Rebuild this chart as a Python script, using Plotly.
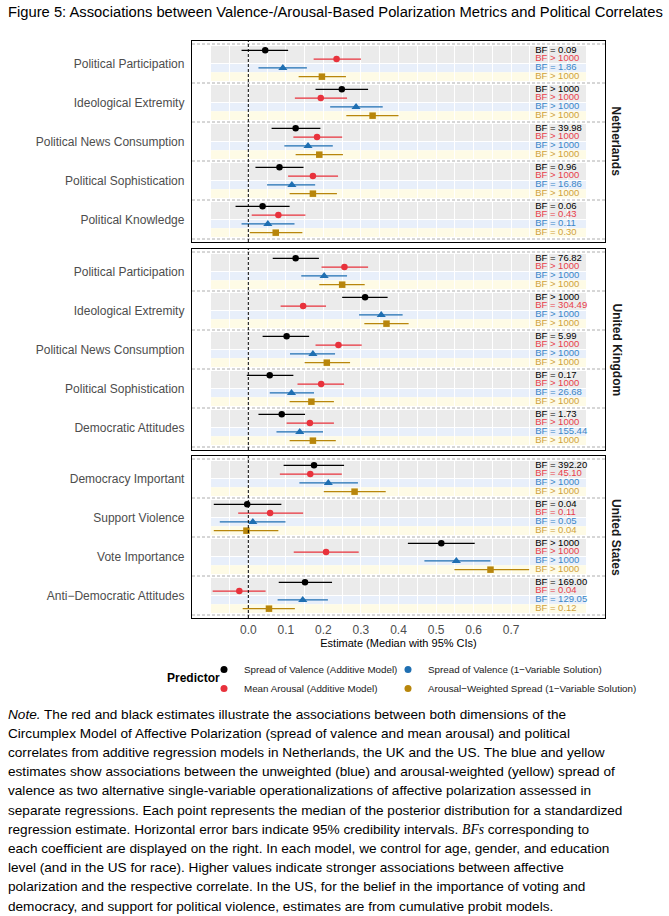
import plotly.graph_objects as go

# ---------------- data ----------------
series_names = [
    "Spread of Valence (Additive Model)",
    "Mean Arousal (Additive Model)",
    "Spread of Valence (1\u2212Variable Solution)",
    "Arousal\u2212Weighted Spread (1\u2212Variable Solution)",
]
countries = ["Netherlands", "United Kingdom", "United States"]

nl_categories = ["Political Participation", "Ideological Extremity", "Political News Consumption",
                 "Political Sophistication", "Political Knowledge"]
nl_est = [[0.045, 0.249, 0.126, 0.083, 0.038],
          [0.235, 0.193, 0.183, 0.172, 0.080],
          [0.092, 0.287, 0.159, 0.116, 0.052],
          [0.196, 0.331, 0.189, 0.172, 0.073]]
nl_lo = [[-0.018, 0.179, 0.062, 0.019, -0.034],
         [0.174, 0.124, 0.120, 0.106, 0.009],
         [0.027, 0.218, 0.096, 0.050, -0.018],
         [0.134, 0.261, 0.126, 0.110, 0.004]]
nl_hi = [[0.106, 0.319, 0.192, 0.147, 0.110],
         [0.300, 0.263, 0.250, 0.239, 0.152],
         [0.156, 0.358, 0.225, 0.178, 0.123],
         [0.260, 0.400, 0.252, 0.236, 0.144]]
nl_bf = [["= 0.09", "> 1000", "= 39.98", "= 0.96", "= 0.06"],
         ["> 1000", "> 1000", "> 1000", "> 1000", "= 0.43"],
         ["= 1.86", "> 1000", "> 1000", "= 16.86", "= 0.11"],
         ["> 1000", "> 1000", "> 1000", "> 1000", "= 0.30"]]

uk_categories = ["Political Participation", "Ideological Extremity", "Political News Consumption",
                 "Political Sophistication", "Democratic Attitudes"]
uk_est = [[0.126, 0.311, 0.102, 0.057, 0.089],
          [0.256, 0.146, 0.240, 0.194, 0.164],
          [0.202, 0.354, 0.172, 0.115, 0.137],
          [0.250, 0.368, 0.209, 0.168, 0.172]]
uk_lo = [[0.065, 0.250, 0.038, -0.004, 0.027],
         [0.195, 0.086, 0.179, 0.131, 0.102],
         [0.141, 0.295, 0.111, 0.057, 0.075],
         [0.189, 0.309, 0.150, 0.110, 0.110]]
uk_hi = [[0.188, 0.371, 0.162, 0.120, 0.151],
         [0.319, 0.207, 0.302, 0.255, 0.228],
         [0.263, 0.411, 0.231, 0.175, 0.199],
         [0.310, 0.427, 0.271, 0.228, 0.233]]
uk_bf = [["= 76.82", "> 1000", "= 5.99", "= 0.17", "= 1.73"],
         ["> 1000", "= 304.49", "> 1000", "> 1000", "> 1000"],
         ["> 1000", "> 1000", "> 1000", "= 26.68", "= 155.44"],
         ["> 1000", "> 1000", "> 1000", "> 1000", "> 1000"]]

us_categories = ["Democracy Important", "Support Violence", "Vote Importance",
                 "Anti\u2212Democratic Attitudes"]
us_est = [[0.175, -0.003, 0.514, 0.151],
          [0.165, 0.058, 0.207, -0.024],
          [0.213, 0.012, 0.554, 0.145],
          [0.283, -0.005, 0.645, 0.055]]
us_lo = [[0.094, -0.092, 0.425, 0.081],
         [0.084, -0.027, 0.121, -0.095],
         [0.136, -0.076, 0.469, 0.078],
         [0.201, -0.092, 0.549, -0.015]]
us_hi = [[0.255, 0.088, 0.603, 0.223],
         [0.249, 0.146, 0.294, 0.046],
         [0.292, 0.099, 0.645, 0.212],
         [0.366, 0.080, 0.748, 0.124]]
us_bf = [["= 392.20", "= 0.04", "> 1000", "= 169.00"],
         ["= 45.10", "= 0.11", "> 1000", "= 0.04"],
         ["> 1000", "= 0.05", "> 1000", "= 129.05"],
         ["> 1000", "= 0.04", "> 1000", "= 0.12"]]

x_ticks = [0.0, 0.1, 0.2, 0.3, 0.4, 0.5, 0.6, 0.7]

note_lines = [
    "<i>Note.</i> The red and black estimates illustrate the associations between both dimensions of the",
    "Circumplex Model of Affective Polarization (spread of valence and mean arousal) and political",
    "correlates from additive regression models in Netherlands, the UK and the US. The blue and yellow",
    "estimates show associations between the unweighted (blue) and arousal-weighted (yellow) spread of",
    "valence as two alternative single-variable operationalizations of affective polarization assessed in",
    "separate regressions. Each point represents the median of the posterior distribution for a standardized",
    "regression estimate. Horizontal error bars indicate 95% credibility intervals. "
    "<i><span style=\"font-family:'Liberation Serif'\">BFs</span></i> corresponding to",
    "each coefficient are displayed on the right. In each model, we control for age, gender, and education",
    "level (and in the US for race). Higher values indicate stronger associations between affective",
    "polarization and the respective correlate. In the US, for the belief in the importance of voting and",
    "democracy, and support for political violence, estimates are from cumulative probit models.",
]

# ---------------- styling ----------------
marker_colors = ["#000000", "#E8323C", "#1F6FB2", "#B8860B"]
text_colors = ["#000000", "#E8404A", "#3A86C8", "#D0A23C"]
symbols = ["circle", "circle", "triangle-up", "square"]
sizes = [6.5, 6.5, 8, 6.5]
offsets = [-0.3375, -0.1125, 0.1125, 0.3375]
band_colors = ["#EBEBEB", "#E8EFFA", "#FEFBE6"]
FONT = "Liberation Sans, Arial, sans-serif"

W, H = 669, 916
L, R, T, B = 192, 64, 41, 298
PW, PH = W - L - R, H - T - B


def pyp(y):
    return (H - B - y) / PH


def pxp(x):
    return (x - L) / PW


panel_px = [(41, 242), (249, 450), (456, 618)]
panels = [
    (nl_categories, nl_est, nl_lo, nl_hi, nl_bf),
    (uk_categories, uk_est, uk_lo, uk_hi, uk_bf),
    (us_categories, us_est, us_lo, us_hi, us_bf),
]
XR = [-0.15, 0.95]
pad = 3 / 39

fig = go.Figure()
shapes = []
annotations = []

for i, (cats, est, lo, hi, bf) in enumerate(panels):
    ax = "" if i == 0 else str(i + 1)
    xr, yr = "x" + ax, "y" + ax
    n = len(cats)
    for s in range(4):
        ys = [k + 1 + offsets[s] for k in range(n)]
        fig.add_trace(go.Scatter(
            x=est[s], y=ys, mode="markers", xaxis=xr, yaxis=yr,
            marker=dict(symbol=symbols[s], size=sizes[s], color=marker_colors[s], line=dict(width=0)),
            error_x=dict(type="data", symmetric=False,
                         array=[h - e for h, e in zip(hi[s], est[s])],
                         arrayminus=[e - l for e, l in zip(est[s], lo[s])],
                         color=marker_colors[s], thickness=1.2, width=0),
            showlegend=False, hoverinfo="skip"))
        fig.add_trace(go.Scatter(
            x=[0.764] * n, y=ys, mode="text", xaxis=xr, yaxis=yr,
            text=["BF " + b for b in bf[s]], textposition="middle right",
            textfont=dict(size=9.5, color=text_colors[s], family=FONT),
            showlegend=False, hoverinfo="skip"))
    # background bands per category
    for k in range(1, n + 1):
        for (y0, y1), col in zip([(k - 0.45, k), (k, k + 0.225), (k + 0.225, k + 0.45)], band_colors):
            shapes.append(dict(type="rect", xref=xr, yref=yr, x0=-0.1, x1=0.9, y0=y0, y1=y1,
                               fillcolor=col, line=dict(width=0), layer="below"))
    # dashed separators between categories
    for k in range(n + 1):
        shapes.append(dict(type="line", xref=xr + " domain", yref=yr, x0=0, x1=1, y0=k + 0.5, y1=k + 0.5,
                           line=dict(color="#9A9A9A", width=0.8, dash="3px,2px"), layer="above"))
    # zero reference line
    shapes.append(dict(type="line", xref=xr, yref=yr + " domain", x0=0, x1=0, y0=0, y1=1,
                       line=dict(color="#000000", width=1, dash="3px,2px"), layer="above"))

    top, bot = panel_px[i]
    xa = dict(
        domain=[0, 1], range=XR, anchor=yr, tickmode="array", tickvals=x_ticks,
        ticktext=["%.1f" % v for v in x_ticks], showticklabels=(i == 2),
        tickfont=dict(size=12, color="#4D4D4D", family=FONT), ticks="",
        showgrid=True, gridcolor="white", gridwidth=0.7, zeroline=False,
        minor=dict(tickmode="linear", tick0=0, dtick=0.05, showgrid=True, gridcolor="white", gridwidth=0.7),
        showline=True, mirror=True, linecolor="black", linewidth=1.3)
    if i > 0:
        xa["matches"] = "x"
    fig.layout["xaxis" + ax] = xa
    fig.layout["yaxis" + ax] = dict(
        domain=[pyp(bot), pyp(top)], range=[n + 0.5 + pad, 0.5 - pad], anchor=xr,
        tickmode="array", tickvals=list(range(1, n + 1)), ticktext=cats,
        tickfont=dict(size=12, color="#4D4D4D", family=FONT), ticks="", ticklabelstandoff=4,
        showgrid=True, gridcolor="white", gridwidth=0.8, zeroline=False,
        showline=True, mirror=True, linecolor="black", linewidth=1.3)
    annotations.append(dict(text="<b>%s</b>" % countries[i], xref="paper", yref="paper",
                            x=pxp(616), y=(pyp(top) + pyp(bot)) / 2, textangle=90, showarrow=False,
                            xanchor="center", yanchor="middle",
                            font=dict(size=12, color="#1A1A1A", family=FONT)))

fig.layout.xaxis3.title = dict(text="Estimate (Median with 95% CIs)", standoff=3,
                               font=dict(size=11, color="#000000", family=FONT))

# legend (colour keys shown as dots, as in the reference), two columns
legend_ids = ["legend", "legend", "legend2", "legend2"]
for s in range(4):
    fig.add_trace(go.Scatter(x=[None], y=[None], mode="markers", name=series_names[s],
                             marker=dict(symbol="circle", size=7, color=marker_colors[s]),
                             legend=legend_ids[s], xaxis="x3", yaxis="y3", hoverinfo="skip"))

annotations.append(dict(text="<b>Predictor</b>", xref="paper", yref="paper", x=pxp(165), y=pyp(677.5),
                        xanchor="left", yanchor="middle", showarrow=False,
                        font=dict(size=12, color="#000000", family=FONT)))

annotations.append(dict(
    text="Figure 5: Associations between Valence-/Arousal-Based Polarization Metrics and Political Correlates",
    xref="paper", yref="paper", x=pxp(6), y=pyp(12), xanchor="left", yanchor="middle", showarrow=False,
    font=dict(size=14.75, color="#000000", family=FONT)))

for j, line in enumerate(note_lines):
    annotations.append(dict(text=line, xref="paper", yref="paper", x=pxp(6), y=pyp(714 + 19.2 * j),
                            xanchor="left", yanchor="middle", showarrow=False, align="left",
                            font=dict(size=13.6, color="#000000", family=FONT)))

leg_common = dict(orientation="v", yanchor="top", xanchor="left", y=pyp(655),
                  font=dict(size=9.8, color="#1A1A1A", family=FONT), bgcolor="rgba(0,0,0,0)",
                  itemclick=False, itemdoubleclick=False, traceorder="normal")

fig.update_layout(
    width=W, height=H, margin=dict(l=L, r=R, t=T, b=B, autoexpand=False),
    paper_bgcolor="white", plot_bgcolor="white",
    shapes=shapes, annotations=annotations,
    showlegend=True,
    legend=dict(x=pxp(204), **leg_common),
    legend2=dict(x=pxp(388), **leg_common),
)

fig.write_html("out.html", config={"displayModeBar": False},
               post_script="document.body.style.margin='0';document.body.style.overflow='hidden';")
